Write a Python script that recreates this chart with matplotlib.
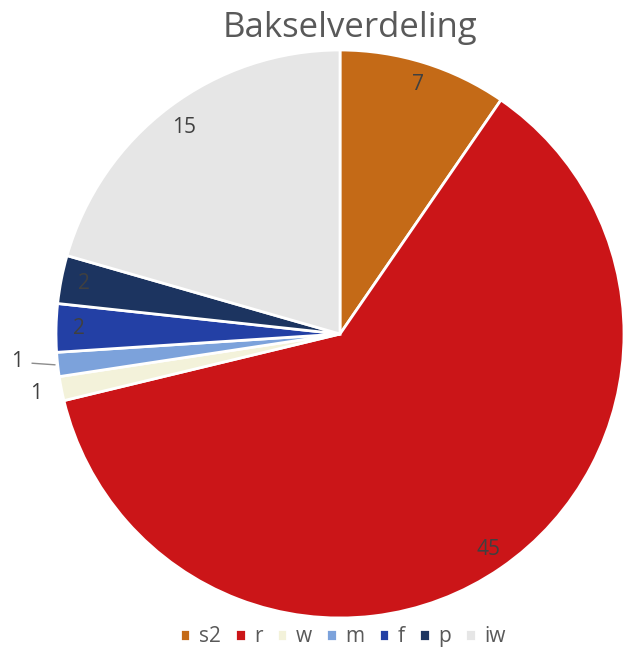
import matplotlib.pyplot as plt
import numpy as np

plt.rcParams['font.family'] = ['Open Sans', 'DejaVu Sans']

labels = ['s2', 'r', 'w', 'm', 'f', 'p', 'iw']
values = [7, 45, 1, 1, 2, 2, 15]
colors = ['#C46A17', '#CB1518', '#F3F2DA', '#7CA2DB', '#2340A5', '#1C3460', '#E6E6E6']

# label distance per slice (fraction of radius)
lab_r = [0.92, 0.92, 1.09, 1.145, 0.92, 0.92, 0.91]

W, H = 623, 651
fig = plt.figure(figsize=(W / 100, H / 100), dpi=100)
cx, cy, R = 340, 334, 284
ax = fig.add_axes([(cx - R) / W, (H - cy - R) / H, 2 * R / W, 2 * R / H])
ax.axis('off')

wedges, _ = ax.pie(values, colors=colors, startangle=90, counterclock=False,
                   radius=1, wedgeprops=dict(edgecolor='white', linewidth=2))
ax.set_xlim(-1, 1)
ax.set_ylim(-1, 1)

for w, v, r in zip(wedges, values, lab_r):
    a = np.deg2rad((w.theta1 + w.theta2) / 2)
    x, y = r * np.cos(a), r * np.sin(a)
    if r > 1.1:
        y = y + 0.025
        ax.plot([1.01 * np.cos(a), 1.09 * np.cos(a)],
                [1.01 * np.sin(a), y - 0.005], color='#8c8c8c', lw=1, clip_on=False)
    ax.text(x, y, str(v), ha='center', va='center', fontsize=15, color='#404040')

fig.text(0.562, 0.957, 'Bakselverdeling', ha='center', va='center', fontsize=25, color='#595959')

fig.legend(wedges, labels, loc='center', bbox_to_anchor=(0.55, 0.022), ncol=7, frameon=False,
           fontsize=15, handlelength=0.5, handleheight=0.5, handletextpad=0.4,
           columnspacing=0.7, labelcolor='#595959')

fig.savefig('out.png', dpi=100, facecolor='white')
